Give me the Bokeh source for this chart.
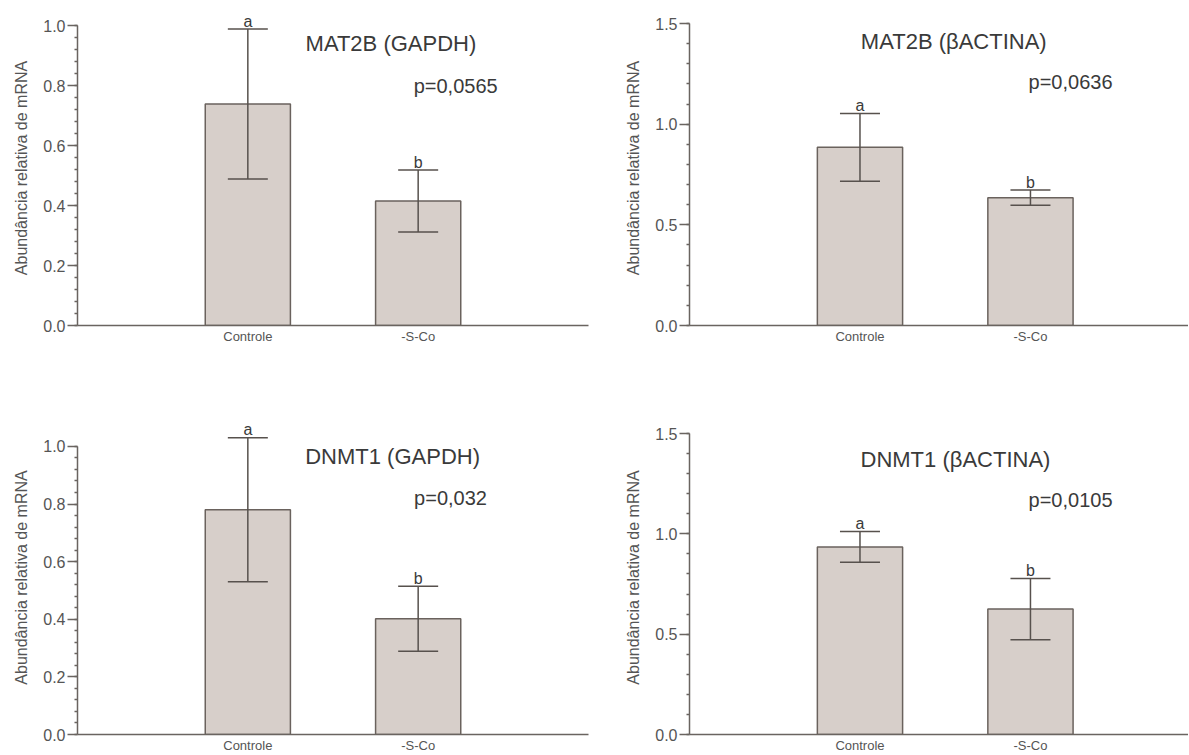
from bokeh.plotting import figure
from bokeh.models import (ColumnDataSource, Range1d, FixedTicker, PrintfTickFormatter,
                          Whisker, TeeHead, Label)
from bokeh.layouts import column, row
from bokeh.core.properties import value
from bokeh.embed import file_html
from bokeh.resources import INLINE

# ---------------- data ----------------
categories = ["Controle", "-S-Co"]
positions = [1, 2]
letters = ["a", "b"]

mat2b_gapdh_mean = [0.738, 0.415]
mat2b_gapdh_err = [0.250, 0.103]

mat2b_actina_mean = [0.885, 0.635]
mat2b_actina_err = [0.168, 0.038]

dnmt1_gapdh_mean = [0.780, 0.402]
dnmt1_gapdh_err = [0.250, 0.113]

dnmt1_actina_mean = [0.935, 0.625]
dnmt1_actina_err = [0.077, 0.153]

titles = ["MAT2B (GAPDH)", "MAT2B (\u03b2ACTINA)", "DNMT1 (GAPDH)", "DNMT1 (\u03b2ACTINA)"]
pvalues = ["p=0,0565", "p=0,0636", "p=0,032", "p=0,0105"]

gapdh_ticks = [0.0, 0.2, 0.4, 0.6, 0.8, 1.0]
gapdh_minor = [round(i * 0.04, 2) for i in range(26)]
actina_ticks = [0.0, 0.5, 1.0, 1.5]
actina_minor = [round(i * 0.1, 1) for i in range(16)]

y_label = "Abund\u00e2ncia relativa de mRNA"

# ---------------- style ----------------
FONT = "Liberation Sans"
BAR_FILL = "#d7cfca"
BAR_LINE = "#6a625d"
ERR_COLOR = "#57514d"
AXIS_COLOR = "#6a6460"
TEXT_COLOR = "#3a3a3a"
TICK_TEXT = "#555555"


def make_panel(mean, err, title, pval, yticks, yminor, ybounds, yend, xend,
               width, height, mb_left, mb_right, mb_top, mb_bottom,
               title_xy, p_xy):
    p = figure(width=width, height=height, output_backend="svg", toolbar_location=None,
               x_range=Range1d(0, xend), y_range=Range1d(0, yend),
               min_border_left=mb_left, min_border_right=mb_right,
               min_border_top=mb_top, min_border_bottom=mb_bottom)
    p.outline_line_color = None
    p.xgrid.visible = False
    p.ygrid.visible = False
    p.background_fill_color = "white"
    p.border_fill_color = "white"

    upper = [m + e for m, e in zip(mean, err)]
    lower = [m - e for m, e in zip(mean, err)]
    src = ColumnDataSource(dict(x=positions, top=mean, upper=upper, lower=lower,
                                letter=letters, cat=categories))

    p.vbar(x="x", top="top", bottom=0, width=0.5, source=src,
           fill_color=BAR_FILL, line_color=BAR_LINE, line_width=1.5)

    wh = Whisker(base="x", upper="upper", lower="lower", source=src, dimension="height",
                 line_color=ERR_COLOR, line_width=1.5, level="annotation",
                 upper_head=TeeHead(size=40, line_color=ERR_COLOR, line_width=1.5),
                 lower_head=TeeHead(size=40, line_color=ERR_COLOR, line_width=1.5))
    p.add_layout(wh)

    p.text(x="x", y="upper", text="letter", source=src, text_font=value(FONT),
           text_font_size="16px", text_color=TEXT_COLOR, text_align="center",
           text_baseline="alphabetic", y_offset=-8)

    p.add_layout(Label(x=title_xy[0], y=title_xy[1], text=title, text_font=FONT,
                       text_font_size="22px", text_color=TEXT_COLOR,
                       text_align="center", text_baseline="middle"))
    p.add_layout(Label(x=p_xy[0], y=p_xy[1], text=pval, text_font=FONT,
                       text_font_size="20px", text_color=TEXT_COLOR,
                       text_align="center", text_baseline="middle"))

    # x axis
    xa = p.xaxis[0]
    xa.ticker = FixedTicker(ticks=positions)
    xa.major_label_overrides = {pos: cat for pos, cat in zip(positions, categories)}
    xa.major_tick_out = 0
    xa.major_tick_in = 0
    xa.minor_tick_out = 0
    xa.minor_tick_in = 0
    xa.axis_line_color = AXIS_COLOR
    xa.axis_line_width = 1.5
    xa.major_label_text_font = FONT
    xa.major_label_text_font_size = "13px"
    xa.major_label_text_color = TICK_TEXT
    xa.major_label_standoff = 3

    # y axis
    ya = p.yaxis[0]
    ya.ticker = FixedTicker(ticks=yticks, minor_ticks=yminor)
    ya.formatter = PrintfTickFormatter(format="%.1f")
    ya.bounds = ybounds
    ya.axis_line_color = AXIS_COLOR
    ya.axis_line_width = 1.5
    ya.major_tick_line_color = AXIS_COLOR
    ya.major_tick_line_width = 1.5
    ya.major_tick_out = 10
    ya.major_tick_in = 0
    ya.minor_tick_line_color = AXIS_COLOR
    ya.minor_tick_line_width = 1.5
    ya.minor_tick_out = 3
    ya.minor_tick_in = 0
    ya.major_label_text_font = FONT
    ya.major_label_text_font_size = "16px"
    ya.major_label_text_color = TICK_TEXT
    ya.major_label_standoff = 2
    ya.axis_label = y_label
    ya.axis_label_text_font = FONT
    ya.axis_label_text_font_size = "16px"
    ya.axis_label_text_font_style = "normal"
    ya.axis_label_text_color = TICK_TEXT
    ya.axis_label_standoff = 10
    return p


# top row: frame 10..325 ; bottom row: frame 420..735
p1 = make_panel(mat2b_gapdh_mean, mat2b_gapdh_err, titles[0], pvalues[0],
                gapdh_ticks, gapdh_minor, (0, 1.0), 1.05, 3.0,
                600, 400, 77, 12, 10, 75, (1.84, 0.94), (2.22, 0.80))
p2 = make_panel(mat2b_actina_mean, mat2b_actina_err, titles[1], pvalues[1],
                actina_ticks, actina_minor, (0, 1.5), 1.565, 2.927,
                588, 400, 89, 0, 10, 75, (1.55, 1.41), (2.235, 1.21))
p3 = make_panel(dnmt1_gapdh_mean, dnmt1_gapdh_err, titles[2], pvalues[2],
                gapdh_ticks, gapdh_minor, (0, 1.0), 1.09, 3.0,
                600, 355, 77, 12, 20, 20, (1.85, 0.965), (2.19, 0.82))
p4 = make_panel(dnmt1_actina_mean, dnmt1_actina_err, titles[3], pvalues[3],
                actina_ticks, actina_minor, (0, 1.5), 1.565, 2.927,
                588, 355, 89, 0, 20, 20, (1.56, 1.37), (2.235, 1.17))

layout = column(row(p1, p2), row(p3, p4))

open("out.html", "w").write(file_html(layout, INLINE))
